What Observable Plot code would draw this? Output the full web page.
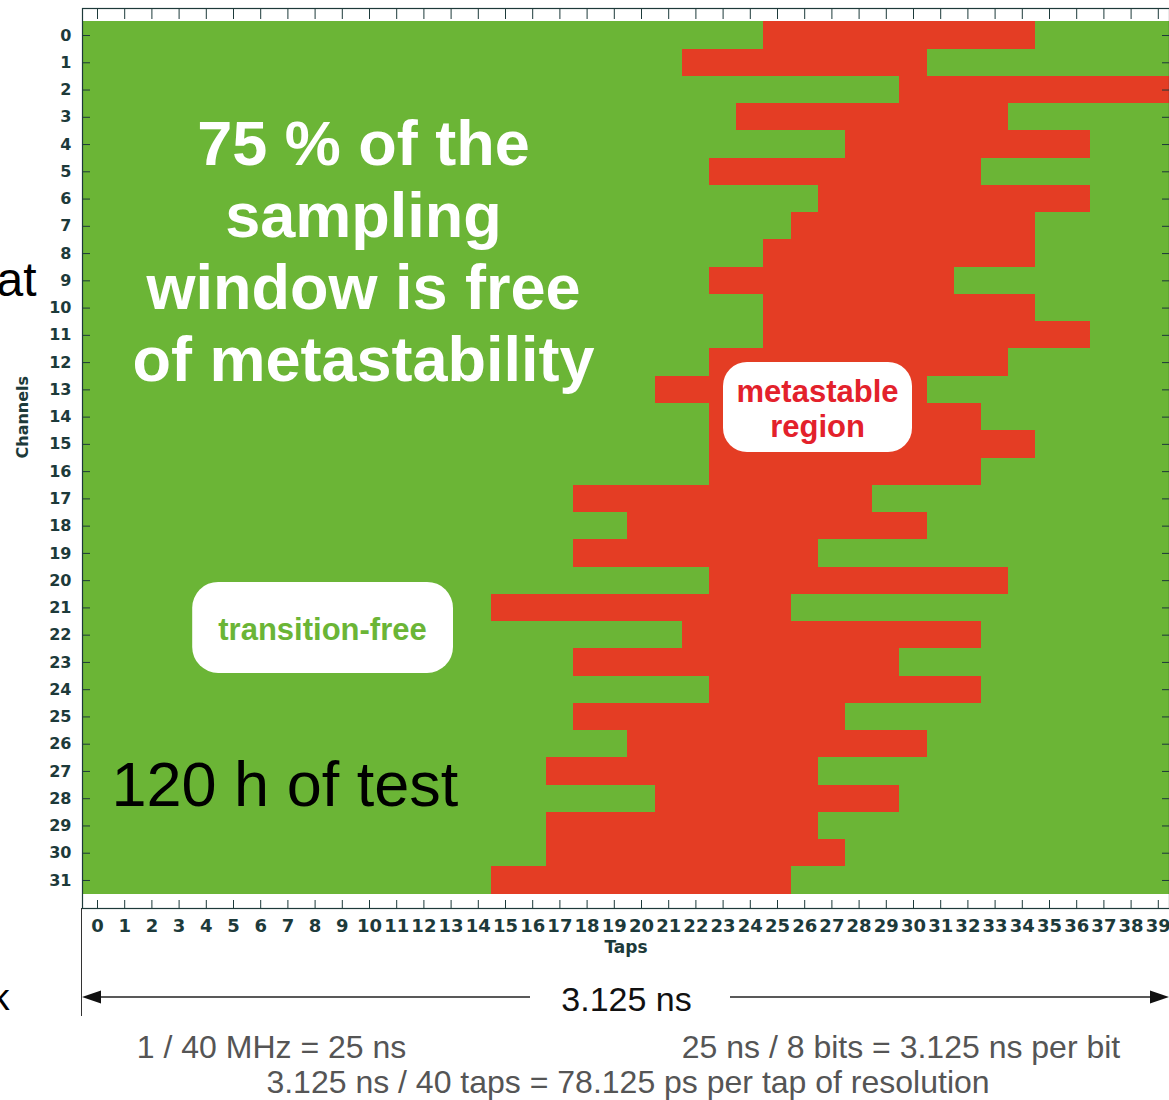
<!DOCTYPE html>
<html>
<head>
<meta charset="utf-8">
<script src="https://cdn.jsdelivr.net/npm/d3@7"></script>
<script src="https://cdn.jsdelivr.net/npm/@observablehq/plot@0.6"></script>
<style>
  html, body { margin: 0; padding: 0; background: #fff; }
  #chart svg { display: block; }
</style>
</head>
<body>
<div id="chart"></div>
<script>
// ---- data ----
const channels = [0,1,2,3,4,5,6,7,8,9,10,11,12,13,14,15,16,17,18,19,20,21,22,23,24,25,26,27,28,29,30,31];
const taps = [0,1,2,3,4,5,6,7,8,9,10,11,12,13,14,15,16,17,18,19,20,21,22,23,24,25,26,27,28,29,30,31,32,33,34,35,36,37,38,39];
// first and last tap (inclusive) of the metastable (red) region for each channel
const metaStart = [25,22,30,24,28,23,27,26,25,23,25,25,23,21,23,23,23,18,20,18,23,15,22,18,23,18,20,17,21,17,17,15];
const metaEnd   = [34,30,39,33,36,32,36,34,34,31,34,36,33,30,32,34,32,28,30,26,33,25,32,29,32,27,30,26,29,26,27,25];
const states = ["transition-free", "metastable"];

const cells = channels.flatMap(c => taps.map(t => ({
  channel: c, tap: t,
  state: (t >= metaStart[c] && t <= metaEnd[c]) ? states[1] : states[0]
})));

// ---- styles ----
const GREEN = "#6bb536", RED = "#e43d24", AXIS = "#1d3a3a", GREY = "#555555";
const SANS = "'Liberation Sans', Arial, sans-serif";

// annotation arrows below the chart (3.125 ns span)
function spanArrow(index, scales, values, dim) {
  const g = d3.create("svg:g");
  const yb = dim.height - dim.marginBottom;
  const y = yb + 89;
  const xl = dim.marginLeft, xr = dim.width;
  g.append("line").attr("x1", xl - 0.5).attr("x2", xl - 0.5).attr("y1", yb).attr("y2", yb + 108)
    .attr("stroke", "#333").attr("stroke-width", 1);
  g.append("line").attr("x1", xl + 10).attr("x2", 530).attr("y1", y).attr("y2", y)
    .attr("stroke", "#222").attr("stroke-width", 1.6);
  g.append("line").attr("x1", 730).attr("x2", xr - 10).attr("y1", y).attr("y2", y)
    .attr("stroke", "#222").attr("stroke-width", 1.6);
  g.append("path").attr("d", `M${xl},${y}L${xl + 19},${y - 6.5}L${xl + 19},${y + 6.5}Z`).attr("fill", "#111");
  g.append("path").attr("d", `M${xr},${y}L${xr - 19},${y - 6.5}L${xr - 19},${y + 6.5}Z`).attr("fill", "#111");
  return g.node();
}

const note = (txt, dx, dy, opts) => Plot.text([txt], {
  text: d => d, frameAnchor: "top-left", dx: dx - 82, dy: dy - 8,
  textAnchor: "middle", lineAnchor: "middle", fontFamily: SANS, ...opts
});

const chart = Plot.plot({
  width: 1169,
  height: 1100,
  marginLeft: 82,
  marginRight: 0,
  marginTop: 8,
  marginBottom: 192,
  style: { fontFamily: "'DejaVu Sans', sans-serif", color: AXIS, background: "white", overflow: "visible" },
  x: { type: "band", domain: taps, range: [83.4, 1171.4], padding: 0, round: false },
  y: { type: "band", domain: channels, range: [21.4, 893.6], padding: 0, round: false },
  color: { domain: states, range: [GREEN, RED] },
  marks: [
    Plot.cell(cells, { x: "tap", y: "channel", fill: "state", shapeRendering: "crispEdges" }),
    Plot.frame({ stroke: AXIS, strokeWidth: 1.2 }),
    // inward ticks on all four spines
    Plot.axisX({ anchor: "top", tickSize: -10, fill: "none", stroke: AXIS, label: null }),
    Plot.axisX({ anchor: "bottom", tickSize: -8, fill: "none", stroke: AXIS, label: null }),
    Plot.axisY({ anchor: "left", tickSize: -8, fill: "none", stroke: AXIS, label: null }),
    Plot.axisY({ anchor: "right", tickSize: -8, fill: "none", stroke: AXIS, label: null }),
    // tick labels
    Plot.axisX({ anchor: "bottom", tickSize: 0, tickPadding: 11, fontSize: 18, fontWeight: "bold", fill: AXIS, label: null }),
    Plot.axisY({ anchor: "left", tickSize: 0, tickPadding: 11, fontSize: 16, fontWeight: "bold", fill: AXIS, label: null }),
    // axis titles
    Plot.text(["Channels"], { text: d => d, frameAnchor: "left", rotate: -90, dx: -60, fontSize: 16, fontWeight: "bold", fill: AXIS }),
    Plot.text(["Taps"], { text: d => d, frameAnchor: "bottom", dy: 44, fontSize: 17, fontWeight: "bold", fill: AXIS }),
    // annotations on the chart
    Plot.cell([{ tap: 27, channel: 13 }], { x: "tap", y: "channel", fill: "white", rx: 24,
      insetLeft: -94.8, insetRight: -67, insetTop: -13.8, insetBottom: -49 }),
    Plot.cell([{ tap: 4, channel: 21 }], { x: "tap", y: "channel", fill: "white", rx: 26,
      insetLeft: 0, insetRight: -233.6, insetTop: -11.9, insetBottom: -51.9 }),
    note("75 % of the\nsampling\nwindow is free\nof metastability", 363, 249.5,
      { fontSize: 63, fontWeight: "bold", fill: "white", lineHeight: 1.14 }),
    note("metastable\nregion", 817, 407.5, { fontSize: 31, fontWeight: "bold", fill: "#e3212b", lineHeight: 1.13 }),
    note("transition-free", 322, 630, { fontSize: 31, fontWeight: "bold", fill: GREEN }),
    note("120 h of test", 111, 785, { fontSize: 63, fill: "#000", textAnchor: "start" }),
    // slide text clipped at the left edge, as in the source
    note("at", 36, 280, { fontSize: 48, fill: "#000", textAnchor: "end" }),
    note("k", 9, 998, { fontSize: 36, fill: "#000", textAnchor: "end" }),
    // span arrow and formulas below
    spanArrow,
    note("3.125 ns", 626, 1000, { fontSize: 34, fill: "#111" }),
    note("1 / 40 MHz = 25 ns", 271, 1047, { fontSize: 32, fill: GREY }),
    note("25 ns / 8 bits = 3.125 ns per bit", 900.5, 1047, { fontSize: 32, fill: GREY }),
    note("3.125 ns / 40 taps = 78.125 ps per tap of resolution", 627.5, 1082, { fontSize: 32, fill: GREY })
  ]
});
document.getElementById("chart").append(chart);
</script>
</body>
</html>
